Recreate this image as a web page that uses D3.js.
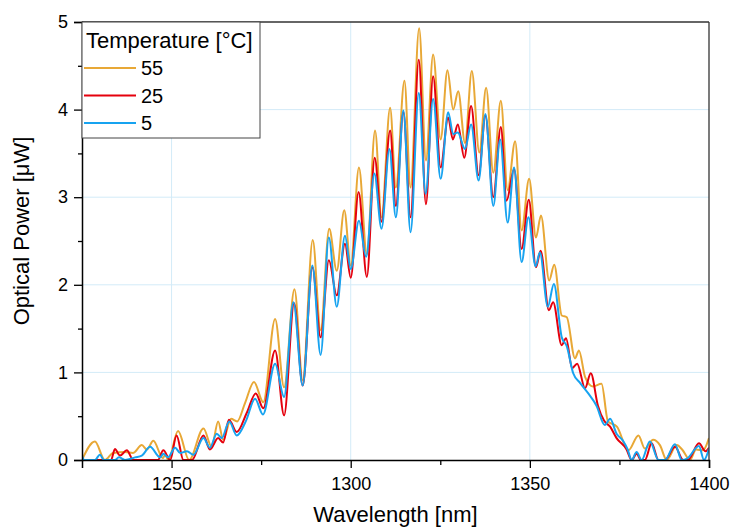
<html>
<head>
<meta charset="utf-8">
<style>
  body { margin: 0; background: #fff; }
  text { font-family: "Liberation Sans", Arial, sans-serif; fill: #000; }
</style>
</head>
<body>
<div id="chart"></div>
<script src="https://cdnjs.cloudflare.com/ajax/libs/d3/7.8.5/d3.min.js"></script>
<script>
var wl55 = [1225, 1228.6, 1231.4, 1233.7, 1237.0, 1239.2, 1241.7, 1243.1, 1244.9, 1247.6, 1248.2, 1249.1,
  1251.8, 1254.9, 1258.9, 1261.2, 1263.0, 1264.4, 1266.6, 1268.3, 1270.5, 1273.0, 1275.6, 1278.9,
  1281.4, 1284.3, 1286.6, 1289.4, 1291.6, 1294.0, 1296.1, 1298.2, 1300.0, 1302.3, 1304.5, 1306.8,
  1308.6, 1311.0, 1312.6, 1315.0, 1316.7, 1319.1, 1321.0, 1323.0, 1325.1, 1327.0, 1328.6, 1330.0,
  1331.9, 1333.8, 1335.9, 1337.8, 1339.8, 1341.9, 1343.8, 1345.9, 1347.7, 1349.8, 1351.7, 1353.1,
  1355.4, 1356.8, 1358.9, 1360.3, 1362.6, 1363.7, 1365.4, 1367.6, 1370.0, 1371.8, 1374.3, 1377.5,
  1380.3, 1382.1, 1384.4, 1386.3, 1388.2, 1391.0, 1392.5, 1394.7, 1396.4, 1398.3, 1400];
var p55 = [0.0, 0.21, 0.0, 0.08, 0.09, 0.08, 0.17, 0.12, 0.22, 0.02, 0.06, 0.0,
  0.33, 0.0, 0.36, 0.15, 0.44, 0.23, 0.47, 0.44, 0.65, 0.89, 0.66, 1.61,
  0.83, 1.95, 0.91, 2.51, 1.48, 2.64, 2.16, 2.85, 2.22, 3.34, 2.35, 3.76,
  2.77, 4.02, 3.11, 4.33, 3.11, 4.93, 3.42, 4.63, 3.66, 4.45, 4.00, 4.21,
  3.62, 4.44, 3.51, 4.25, 3.28, 4.10, 3.08, 3.64, 2.62, 3.21, 2.54, 2.79,
  2.05, 2.23, 1.65, 1.63, 1.16, 1.25, 0.95, 0.84, 0.87, 0.44, 0.38, 0.11,
  0.28, 0.13, 0.23, 0.17, 0.0, 0.17, 0.12, 0.0, 0.12, 0.11, 0.25];

var wl25 = [1225, 1225.4, 1233.1, 1234.2, 1235.6, 1237.5, 1239.3, 1246.2, 1247.7, 1249.6, 1251.4, 1253.3,
  1255.7, 1258.9, 1260.7, 1263.0, 1264.4, 1266.0, 1268.2, 1271.0, 1273.5, 1275.6, 1278.9, 1281.4,
  1284.2, 1286.6, 1289.3, 1291.6, 1293.9, 1296.1, 1298.4, 1300.0, 1302.2, 1304.5, 1306.7, 1308.6,
  1311.0, 1312.6, 1314.7, 1316.7, 1319.0, 1321.0, 1323.0, 1325.1, 1327.2, 1328.5, 1329.9, 1331.7,
  1333.6, 1335.7, 1337.6, 1339.8, 1341.9, 1343.5, 1345.6, 1347.7, 1349.7, 1351.7, 1353.0, 1355.3,
  1356.5, 1358.9, 1360.1, 1361.8, 1363.2, 1365.4, 1367.0, 1369.0, 1370.7, 1372.4, 1374.2, 1377.0,
  1378.4, 1379.8, 1381.0, 1382.1, 1384.0, 1385.9, 1387.7, 1390.5, 1392.8, 1394.1, 1397.2, 1399.0, 1400];
var p25 = [0.04, 0.0, 0.0, 0.125, 0.05, 0.11, 0.0, 0.0, 0.11, 0.0, 0.28, 0.0,
  0.0, 0.28, 0.12, 0.25, 0.20, 0.46, 0.32, 0.54, 0.76, 0.59, 1.25, 0.51,
  1.79, 0.85, 2.20, 1.40, 2.28, 1.88, 2.47, 2.08, 3.06, 2.09, 3.45, 2.72,
  3.76, 2.90, 3.97, 2.77, 4.57, 2.92, 4.38, 3.34, 3.91, 3.66, 3.83, 3.45,
  4.04, 3.25, 3.93, 3.00, 3.80, 2.96, 3.32, 2.41, 2.97, 2.20, 2.39, 1.71,
  1.80, 1.31, 1.39, 1.05, 1.10, 0.82, 0.99, 0.62, 0.45, 0.38, 0.25, 0.12,
  0.0, 0.07, 0.0, 0.0, 0.19, 0.0, 0.0, 0.15, 0.0, 0.0, 0.19, 0.10, 0.14];

var wl5 = [1225, 1225.6, 1228.6, 1230.0, 1231.1, 1234.2, 1235.3, 1237.0, 1239.8, 1241.7, 1244.0, 1246.8,
  1247.7, 1249.0, 1251.0, 1252.4, 1254.3, 1256.1, 1258.9, 1260.7, 1262.6, 1264.0, 1266.1, 1268.2,
  1270.8, 1273.3, 1275.5, 1278.9, 1281.4, 1284.0, 1286.6, 1289.3, 1291.6, 1293.9, 1296.1, 1298.4,
  1300.0, 1302.3, 1304.3, 1306.6, 1308.6, 1310.8, 1312.6, 1314.7, 1316.7, 1319.0, 1320.9, 1323.0,
  1325.1, 1327.2, 1328.6, 1329.9, 1331.9, 1333.6, 1335.7, 1337.6, 1339.8, 1341.7, 1343.8, 1345.6,
  1347.7, 1349.6, 1351.6, 1352.8, 1355.0, 1356.7, 1358.9, 1360.3, 1362.1, 1364.0, 1366.3, 1368.6,
  1370.9, 1372.4, 1374.2, 1376.0, 1377.3, 1378.4, 1379.8, 1381.2, 1383.5, 1385.9, 1387.7, 1390.5,
  1392.4, 1394.0, 1397.2, 1398.6, 1400];
var p5 = [0.05, 0.0, 0.0, 0.06, 0.0, 0.0, 0.03, 0.0, 0.03, 0.05, 0.15, 0.03,
  0.07, 0.03, 0.14, 0.08, 0.10, 0.06, 0.25, 0.14, 0.30, 0.25, 0.44, 0.28,
  0.45, 0.70, 0.52, 1.10, 0.72, 1.80, 0.85, 2.22, 1.20, 2.54, 1.75, 2.56,
  2.18, 2.73, 2.32, 3.27, 2.64, 3.55, 2.77, 3.99, 2.60, 4.19, 3.04, 4.12,
  3.21, 3.97, 3.72, 3.74, 3.55, 3.83, 3.19, 3.95, 2.90, 3.66, 2.71, 3.34,
  2.26, 2.77, 2.21, 2.37, 1.75, 2.01, 1.40, 1.30, 0.99, 0.88, 0.76, 0.62,
  0.40, 0.47, 0.30, 0.22, 0.12, 0.0, 0.09, 0.0, 0.21, 0.0, 0.0, 0.18,
  0.0, 0.02, 0.16, 0.0, 0.13];

var seriesNames = ["55", "25", "5"];
var seriesColors = ["#e8a836", "#e5000d", "#17a3f0"];
var xTicks = [1250, 1300, 1350, 1400];
var xMinor = [1275, 1325, 1375];
var yTicks = [0, 1, 2, 3, 4, 5];
var yMinor = [0.5, 1.5, 2.5, 3.5, 4.5];

var W = 731, H = 527;
var mLeft = 82, mRight = 709, mTop = 22, mBottom = 460;

var svg = d3.select("#chart").append("svg")
  .attr("width", W).attr("height", H);

var x = d3.scaleLinear().domain([1225, 1400]).range([mLeft, mRight]);
var y = d3.scaleLinear().domain([0, 5]).range([mBottom, mTop]);

// grid
svg.append("g").selectAll("line")
  .data(xTicks.filter(function (d) { return d < 1400; }))
  .enter().append("line")
    .attr("x1", function (d) { return x(d); }).attr("x2", function (d) { return x(d); })
    .attr("y1", mTop).attr("y2", mBottom)
    .attr("stroke", "#d3ebf8").attr("stroke-width", 1);
svg.append("g").selectAll("line")
  .data(yTicks.filter(function (d) { return d > 0 && d < 5; }))
  .enter().append("line")
    .attr("x1", mLeft).attr("x2", mRight)
    .attr("y1", function (d) { return y(d); }).attr("y2", function (d) { return y(d); })
    .attr("stroke", "#d3ebf8").attr("stroke-width", 1);

// traces
svg.append("clipPath").attr("id", "plotClip").append("rect")
  .attr("x", mLeft).attr("y", mTop).attr("width", mRight - mLeft).attr("height", mBottom - mTop);

var line = d3.line()
  .x(function (d) { return x(d[0]); })
  .y(function (d) { return y(d[1]); })
  .curve(d3.curveMonotoneX);

var traces = [d3.zip(wl55, p55), d3.zip(wl25, p25), d3.zip(wl5, p5)];
traces.forEach(function (t, i) {
  svg.append("path")
    .attr("d", line(t))
    .attr("clip-path", "url(#plotClip)")
    .attr("fill", "none")
    .attr("stroke", seriesColors[i])
    .attr("stroke-width", 2)
    .attr("stroke-linejoin", "round");
});

// frame top/right
svg.append("line").attr("x1", mLeft).attr("x2", mRight).attr("y1", mTop).attr("y2", mTop)
  .attr("stroke", "#333").attr("stroke-width", 1.3);
svg.append("line").attr("x1", mRight).attr("x2", mRight).attr("y1", mTop).attr("y2", mBottom)
  .attr("stroke", "#333").attr("stroke-width", 1.3);

// axes
svg.append("g").attr("transform", "translate(0," + mBottom + ")")
  .call(d3.axisBottom(x).tickValues(xTicks).tickSize(8).tickPadding(9).tickFormat(d3.format("d")));
svg.append("g").attr("transform", "translate(0," + mBottom + ")")
  .call(d3.axisBottom(x).tickValues(xMinor).tickSize(5).tickFormat(""))
  .select(".domain").remove();
svg.append("g").attr("transform", "translate(" + mLeft + ",0)")
  .call(d3.axisLeft(y).tickValues(yTicks).tickSize(8).tickPadding(6).tickFormat(d3.format("d")));
svg.append("g").attr("transform", "translate(" + mLeft + ",0)")
  .call(d3.axisLeft(y).tickValues(yMinor).tickSize(4).tickFormat(""))
  .select(".domain").remove();

svg.selectAll(".domain").attr("stroke", "#000").attr("stroke-width", 1.5);
svg.selectAll(".tick line").attr("stroke", "#000").attr("stroke-width", 1.3);
svg.selectAll(".tick text").style("font-family", "'Liberation Sans', Arial, sans-serif")
  .style("font-size", "18px").attr("fill", "#000");

// axis titles
svg.append("text")
  .attr("x", (mLeft + mRight) / 2).attr("y", 522)
  .attr("text-anchor", "middle").style("font-size", "22px")
  .text("Wavelength [nm]");
svg.append("text")
  .attr("transform", "translate(28.5,231) rotate(-90)")
  .attr("text-anchor", "middle").style("font-size", "22px")
  .text("Optical Power [μW]");

// legend
var lg = svg.append("g");
lg.append("rect").attr("x", mLeft).attr("y", mTop).attr("width", 178).attr("height", 116)
  .attr("fill", "#fff").attr("stroke", "#444").attr("stroke-width", 1);
lg.append("text").attr("x", 86).attr("y", 48).style("font-size", "22px")
  .text("Temperature [°C]");
seriesNames.forEach(function (n, i) {
  var ly = 68 + i * 27.5;
  lg.append("line").attr("x1", 84).attr("x2", 136).attr("y1", ly).attr("y2", ly)
    .attr("stroke", seriesColors[i]).attr("stroke-width", 2);
  lg.append("text").attr("x", 141).attr("y", ly + 7).style("font-size", "20px").text(n);
});
</script>
</body>
</html>
